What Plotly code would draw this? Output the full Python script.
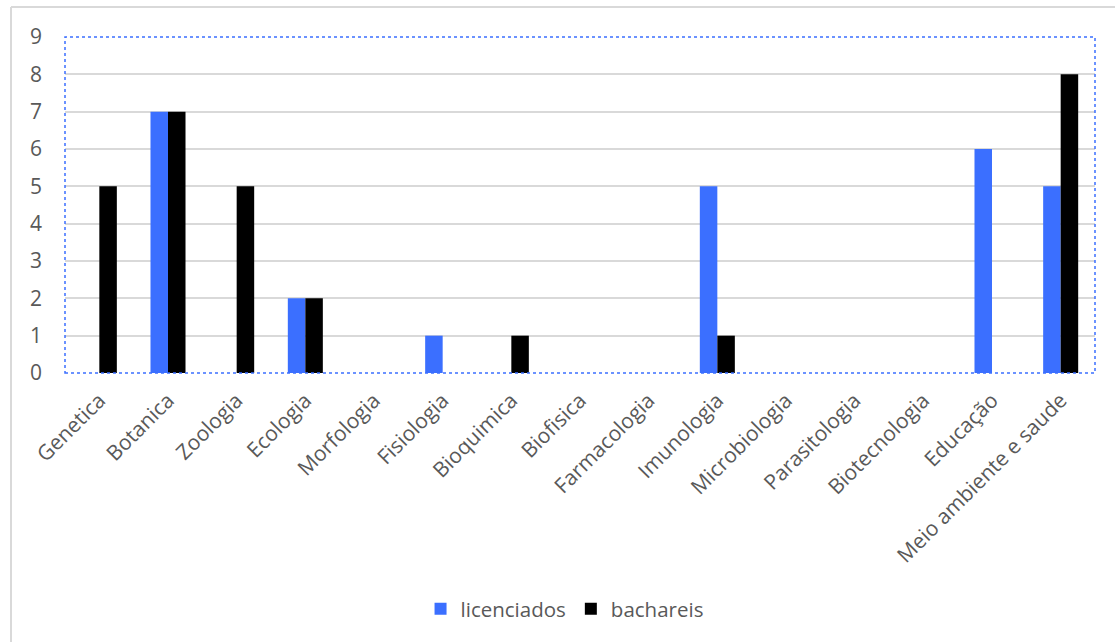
import plotly.graph_objects as go

categories = ["Genetica", "Botanica", "Zoologia", "Ecologia", "Morfologia", "Fisiologia",
              "Bioquimica", "Biofisica", "Farmacologia", "Imunologia", "Microbiologia",
              "Parasitologia", "Biotecnologia", "Educação", "Meio ambiente e saude"]
licenciados = [0, 7, 0, 2, 0, 1, 0, 0, 0, 5, 0, 0, 0, 6, 5]
bachareis = [5, 7, 5, 2, 0, 0, 1, 0, 0, 1, 0, 0, 0, 0, 8]
y_ticks = list(range(0, 10))

W, H = 1115, 642
L, R, T, B = 65, 20, 37, 269
pw, ph = W - L - R, H - T - B

def px_x(p):
    return (p - L) / pw

def px_y(p):
    return (H - B - p) / ph

font_family = "Open Sans, Noto Sans, sans-serif"
gray = "#595959"

fig = go.Figure()
fig.add_trace(go.Bar(x=categories, y=licenciados, name="licenciados",
                     marker=dict(color="#3B6FFF", line=dict(width=0))))
fig.add_trace(go.Bar(x=categories, y=bachareis, name="bachareis",
                     marker=dict(color="#000000", line=dict(width=0))))

fig.update_layout(
    width=W, height=H,
    margin=dict(l=L, r=R, t=T, b=B, pad=0),
    paper_bgcolor="white", plot_bgcolor="white",
    barmode="group", bargap=0.49, bargroupgap=0,
    font=dict(family=font_family, size=20, color=gray),
    showlegend=True,
    legend=dict(orientation="h", x=0.485, xanchor="center", y=px_y(609), yanchor="middle",
                font=dict(size=20.5, color=gray), itemsizing="constant", traceorder="normal",
                itemwidth=30),
    xaxis=dict(tickangle=-45, showgrid=False, showline=False, ticks="",
               tickfont=dict(size=21, color=gray), ticklabelstandoff=10),
    yaxis=dict(range=[0, 9], tickvals=y_ticks, showgrid=True, gridcolor="#d9d9d9",
               gridwidth=1.5, zeroline=False, showline=False, ticks="",
               tickfont=dict(size=21, color=gray), ticklabelstandoff=22),
    shapes=[
        dict(type="rect", xref="paper", yref="paper", x0=0, x1=1, y0=0, y1=1,
             line=dict(color="#3B6FFF", width=1.5, dash="dot"), layer="above"),
        dict(type="line", xref="paper", yref="paper", x0=px_x(11), x1=px_x(W + 5),
             y0=px_y(7), y1=px_y(7), line=dict(color="#d9d9d9", width=2)),
        dict(type="line", xref="paper", yref="paper", x0=px_x(11), x1=px_x(11),
             y0=px_y(7), y1=px_y(H + 5), line=dict(color="#d9d9d9", width=2)),
    ],
)

fig.write_html("out.html")
